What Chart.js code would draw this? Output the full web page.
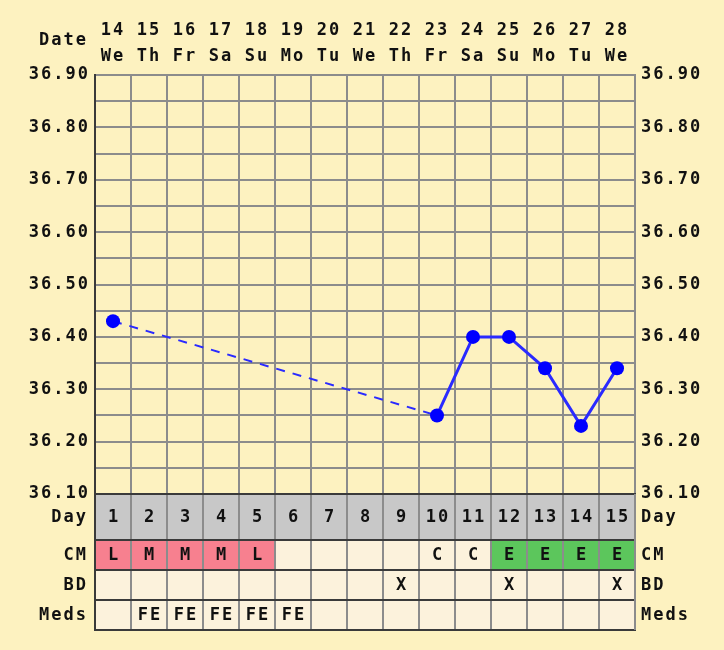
<!DOCTYPE html>
<html><head><meta charset="utf-8">
<script src="https://cdn.jsdelivr.net/npm/chart.js@4.4.1/dist/chart.umd.min.js"></script>
<style>html,body{margin:0;padding:0;background:#fdf2c0;}canvas{display:block;}</style>
</head><body>
<canvas id="c" width="724" height="650"></canvas>
<script>
const dates = ['14','15','16','17','18','19','20','21','22','23','24','25','26','27','28'];
const weekdays = ['We','Th','Fr','Sa','Su','Mo','Tu','We','Th','Fr','Sa','Su','Mo','Tu','We'];
const temps = [36.43,null,null,null,null,null,null,null,null,36.25,36.40,36.40,36.34,36.23,36.34];
const cycleDays = ['1','2','3','4','5','6','7','8','9','10','11','12','13','14','15'];
const cm = ['L','M','M','M','L','','','','','C','C','E','E','E','E'];
const bd = ['','','','','','','','','X','','','X','','','X'];
const meds = ['','FE','FE','FE','FE','FE','','','','','','','','',''];
const yTickLabels = ['36.90','36.80','36.70','36.60','36.50','36.40','36.30','36.20','36.10'];
const rowLabels = ['Day','CM','BD','Meds'];
const yMin = 36.10, yMax = 36.90, yStep = 0.05;

const FONT = 'DejaVu Sans Mono';
const GRID = '#8c8c8c';
const DARK = '#3a3a3a';
const rowHeights = [46, 30, 30, 30];
const cmColors = {L:'#f7808f', M:'#f7808f', E:'#5cc65c'};
const CREAM = '#fcf2dc';
const DAYBG = '#c8c8c8';

const labels = dates.map((d,i)=>[d, weekdays[i]]);

const spacing = {
  id:'spacing',
  beforeDraw(chart){ chart.ctx.letterSpacing = '2px'; }
};

const table = {
  id:'table',
  afterDraw(chart){
    const ctx = chart.ctx, a = chart.chartArea;
    const n = cycleDays.length;
    const cw = (a.right - a.left) / n;
    const rows = [cycleDays, cm, bd, meds];
    ctx.save();
    ctx.letterSpacing = '2px';
    let y = a.bottom;
    const rowTops = [];
    rows.forEach((vals, r) => {
      const h = rowHeights[r];
      rowTops.push(y);
      for (let i = 0; i < n; i++) {
        const x0 = a.left + i*cw;
        let fill = CREAM;
        if (r === 0) fill = DAYBG;
        if (r === 1 && cmColors[vals[i]]) fill = cmColors[vals[i]];
        ctx.fillStyle = fill;
        ctx.fillRect(x0, y, cw, h);
      }
      y += h;
    });
    const bottom = y;
    ctx.strokeStyle = GRID; ctx.lineWidth = 2;
    for (let i = 1; i < n; i++) {
      const x = Math.round(a.left + i*cw);
      ctx.beginPath(); ctx.moveTo(x, a.bottom); ctx.lineTo(x, bottom); ctx.stroke();
    }
    ctx.strokeStyle = DARK;
    [...rowTops, bottom].forEach(yy => {
      ctx.beginPath(); ctx.moveTo(a.left-1, yy); ctx.lineTo(a.right+1, yy); ctx.stroke();
    });
    ctx.beginPath(); ctx.moveTo(a.left, a.bottom); ctx.lineTo(a.left, bottom); ctx.stroke();
    ctx.strokeStyle = GRID;
    ctx.beginPath(); ctx.moveTo(a.right, a.bottom); ctx.lineTo(a.right, bottom); ctx.stroke();
    ctx.fillStyle = '#111';
    ctx.font = 'bold 17px "' + FONT + '"';
    ctx.textBaseline = 'middle';
    rows.forEach((vals, r) => {
      const cy = rowTops[r] + rowHeights[r]/2 + 1;
      ctx.textAlign = 'center';
      for (let i = 0; i < n; i++) {
        if (vals[i]) ctx.fillText(vals[i], a.left + (i+0.5)*cw + 1, cy);
      }
      ctx.textAlign = 'right';
      ctx.fillText(rowLabels[r], a.left - 7, cy);
      ctx.textAlign = 'left';
      ctx.fillText(rowLabels[r], a.right + 6, cy);
    });
    ctx.textAlign = 'right';
    ctx.fillText('Date', a.left - 7, 41);
    ctx.restore();
  }
};

const tickCb = v => { const s = Number(v).toFixed(2); return yTickLabels.includes(s) ? s : ''; };
const isGap = c => !!(c.p0.skip || c.p1.skip);

new Chart(document.getElementById('c'), {
  type:'line',
  data:{
    labels,
    datasets:[{
      data: temps,
      spanGaps: true,
      borderColor:'#2a2aff',
      borderWidth:3,
      pointRadius:7,
      pointHoverRadius:7,
      pointBackgroundColor:'#0000ff',
      pointBorderColor:'#0000ff',
      pointBorderWidth:0,
      tension:0,
      segment:{
        borderDash: c => isGap(c) ? [9,8] : [],
        borderWidth: c => isGap(c) ? 2 : 3
      }
    }]
  },
  options:{
    responsive:false,
    animation:false,
    devicePixelRatio:1,
    layout:{padding:{top:0,bottom:156,left:0,right:0}},
    plugins:{legend:{display:false},tooltip:{enabled:false}},
    scales:{
      x:{
        type:'category', position:'top', offset:true,
        grid:{color:GRID, lineWidth:2, drawTicks:false, offset:true},
        border:{color:GRID, width:2},
        ticks:{color:'#111', font:{family:FONT, size:17, weight:'bold', lineHeight:1.5}, padding:6, maxRotation:0, autoSkip:false},
        afterFit(s){ s.height = 75; }
      },
      y:{
        position:'left', min:yMin, max:yMax,
        grid:{color:GRID, lineWidth:2, drawTicks:false},
        border:{color:DARK, width:2},
        ticks:{stepSize:yStep, callback:tickCb, color:'#111', font:{family:FONT, size:17, weight:'bold'}, padding:5, autoSkip:false},
        afterFit(s){ s.width = 95; }
      },
      y2:{
        position:'right', min:yMin, max:yMax,
        grid:{display:false, drawTicks:false},
        border:{color:GRID, width:2},
        ticks:{stepSize:yStep, callback:tickCb, color:'#111', font:{family:FONT, size:17, weight:'bold'}, padding:6, autoSkip:false},
        afterFit(s){ s.width = 89; }
      }
    }
  },
  plugins:[spacing, table]
});
</script>
</body></html>
